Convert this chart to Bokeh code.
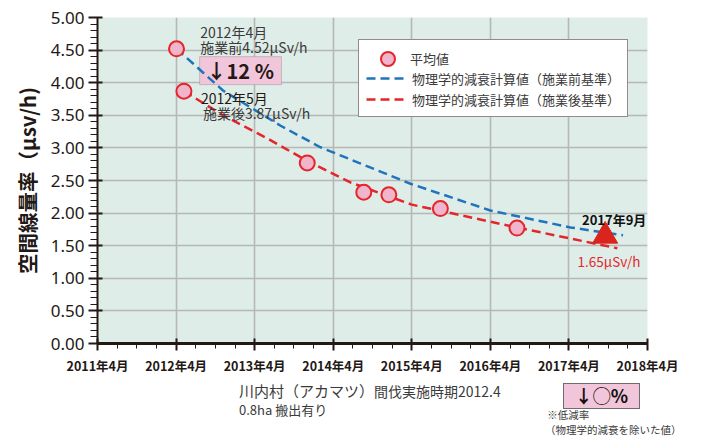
from bokeh.plotting import figure
from bokeh.layouts import column
from bokeh.models import (Range1d, FixedTicker, PrintfTickFormatter, Label,
                          BoxAnnotation, Legend, LegendItem, Div)
from bokeh.embed import file_html
from bokeh.resources import INLINE

# ---------------- data ----------------
avg_dates = ["2012-04-03", "2012-05-07", "2013-12-02", "2014-08-21",
             "2014-12-16", "2015-08-12", "2016-08-03"]
avg_values = [4.52, 3.87, 2.77, 2.32, 2.28, 2.07, 1.77]

pre_dates = ["2012-04-03", "2012-06-20", "2012-11-06", "2013-07-30", "2014-02-02",
             "2014-08-07", "2015-03-25", "2016-04-01", "2017-04-08", "2017-12-09"]
pre_values = [4.52, 4.29, 3.88, 3.34, 3.01, 2.76, 2.45, 2.04, 1.78, 1.66]

post_dates = ["2012-05-07", "2012-11-06", "2013-06-13", "2013-12-02", "2014-06-20",
              "2015-04-01", "2016-08-03", "2017-04-08", "2017-11-13"]
post_values = [3.87, 3.50, 3.12, 2.80, 2.47, 2.13, 1.78, 1.61, 1.46]

sep_dates = ["2017-09-17"]
sep_values = [1.65]

tick_dates = ["2011-04-01", "2012-04-01", "2013-04-01", "2014-04-01",
              "2015-04-01", "2016-04-01", "2017-04-01", "2018-04-01"]
tick_labels = ["2011年4月", "2012年4月", "2013年4月", "2014年4月",
               "2015年4月", "2016年4月", "2017年4月", "2018年4月"]
y_ticks = [0.0, 0.5, 1.0, 1.5, 2.0, 2.5, 3.0, 3.5, 4.0, 4.5, 5.0]


def months(d):
    y, m, dd = (int(v) for v in d.split("-"))
    return (y - 2011) * 12 + (m - 4) + (dd - 1) / 30.0


avg_x = [months(d) for d in avg_dates]
pre_x = [months(d) for d in pre_dates]
post_x = [months(d) for d in post_dates]
sep_x = [months(d) for d in sep_dates]
x_ticks = [months(d) for d in tick_dates]
x_minor = [t + k for t in x_ticks[:-1] for k in (3, 6, 9)]
y_minor = [round(t + k / 10, 2) for t in y_ticks[:-1] for k in (1, 2, 3, 4)]

JP = "Noto Sans CJK JP"
DARK = "#231815"
TXT = "#3a3a3a"
RED = "#e3262b"
BLUE = "#1f74bd"
PINK_BOX = "#f2c6da"

p = figure(width=702, height=380, output_backend="svg", toolbar_location=None,
           x_range=Range1d(x_ticks[0], x_ticks[-1]), y_range=Range1d(0, 5),
           min_border_left=97, min_border_right=55, min_border_top=17,
           min_border_bottom=37, background_fill_color="#dfede8",
           border_fill_color="white", outline_line_color=None)

# grid
p.xgrid.ticker = FixedTicker(ticks=x_ticks)
p.ygrid.ticker = FixedTicker(ticks=y_ticks)
for g in (p.xgrid, p.ygrid):
    g.grid_line_color = "#b5b8b5"
    g.grid_line_width = 1.6

# x axis
xa = p.xaxis[0]
xa.ticker = FixedTicker(ticks=x_ticks, minor_ticks=x_minor)
xa.major_label_overrides = {t: lab for t, lab in zip(x_ticks, tick_labels)}
xa.major_label_text_font = JP
xa.major_label_text_font_style = "bold"
xa.major_label_text_font_size = "12.5px"
xa.major_label_text_color = DARK
xa.major_label_standoff = 5
xa.axis_line_width = 3
xa.axis_line_color = DARK
xa.major_tick_line_color = DARK
xa.major_tick_line_width = 2
xa.major_tick_in = 5
xa.major_tick_out = 7
xa.minor_tick_line_color = DARK
xa.minor_tick_line_width = 1
xa.minor_tick_in = 0
xa.minor_tick_out = 5

# y axis
ya = p.yaxis[0]
ya.ticker = FixedTicker(ticks=y_ticks, minor_ticks=y_minor)
ya.formatter = PrintfTickFormatter(format="%.2f")
ya.major_label_text_font = "Noto Sans"
ya.major_label_text_font_size = "17px"
ya.major_label_text_color = DARK
ya.major_label_standoff = 4
ya.axis_line_width = 2
ya.axis_line_color = DARK
ya.major_tick_line_color = DARK
ya.major_tick_line_width = 2
ya.major_tick_in = 5
ya.major_tick_out = 9
ya.minor_tick_line_color = DARK
ya.minor_tick_line_width = 1
ya.minor_tick_in = 0
ya.minor_tick_out = 7
ya.axis_label = "空間線量率（μsv/h)"
ya.axis_label_text_font = JP
ya.axis_label_text_font_style = "bold"
ya.axis_label_text_font_size = "20.5px"
ya.axis_label_text_color = DARK
ya.axis_label_standoff = 6

# box behind "↓12 %"
p.add_layout(BoxAnnotation(left=15.6, right=28.1, top=4.40, bottom=3.97,
                           fill_color=PINK_BOX, fill_alpha=1,
                           line_color="#6d6d6d", line_width=1, level="underlay"))

# series
r_pre = p.line(pre_x, pre_values, line_color=BLUE, line_width=2.5, line_dash="9 5")
r_post = p.line(post_x, post_values, line_color=RED, line_width=2.5, line_dash="9 5")
r_avg = p.scatter(avg_x, avg_values, size=15, fill_color="#f0b4cb",
                  line_color=RED, line_width=2)
p.scatter(sep_x, sep_values, marker="triangle", size=25,
          fill_color="#d9251d", line_color="#d9251d")

# legends
legA = Legend(items=[LegendItem(label=" ", renderers=[r_avg]),
                     LegendItem(label="物理学的減衰計算値（施業前基準）", renderers=[r_pre]),
                     LegendItem(label="物理学的減衰計算値（施業後基準）", renderers=[r_post])],
              location=(261, 226), padding=7, spacing=1, margin=0,
              glyph_width=40, glyph_height=20, label_height=20, label_standoff=6,
              label_text_font=JP, label_text_font_size="13px", label_text_color=TXT,
              border_line_color=DARK, border_line_width=1,
              background_fill_color="white", background_fill_alpha=1)
p.add_layout(legA)
legB = Legend(items=[LegendItem(label="平均値", renderers=[r_avg])],
              location=(273, 267), padding=0, spacing=0, margin=0,
              glyph_width=35, glyph_height=35, label_height=35, label_standoff=5,
              label_text_font=JP, label_text_font_size="13px", label_text_color=TXT,
              border_line_alpha=0, background_fill_alpha=0)
p.add_layout(legB)


def lab(fig, x, y, text, size, color=TXT, bold=False, align="left"):
    fig.add_layout(Label(x=x, y=y, text=text,
                         text_font=JP, text_font_size=size, text_color=color,
                         text_font_style="bold" if bold else "normal",
                         text_align=align, text_baseline="middle"))


lab(p, 15.7, 4.77, "2012年4月", "14px")
lab(p, 15.7, 4.54, "施業前4.52μSv/h", "14px")
lab(p, 21.8, 4.19, "↓12 %", "20px", color=DARK, bold=True, align="center")
lab(p, 15.8, 3.77, "2012年5月", "14px", color=DARK)
lab(p, 16.1, 3.54, "施業後3.87μSv/h", "14px")
lab(p, 74.0, 1.90, "2017年9月", "13px", color="#111111", bold=True)
lab(p, 73.3, 1.26, "1.65μSv/h", "13.5px", color=RED)

# ---------- notes under the chart ----------
notes_html = (
    "<div style='position:relative;width:702px;height:57px;"
    f"font-family:\"{JP}\";color:{TXT};'>"
    "<div style='position:absolute;left:239px;top:2px;line-height:18px;white-space:nowrap;'>"
    "<span style='font-size:15px;'>川内村（アカマツ）</span>"
    "<span style='font-size:14px;'>間伐実施時期2012.4</span><br>"
    "<span style='font-size:13px;'>0.8ha 搬出有り</span></div>"
    "<div style='position:absolute;left:563px;top:3px;width:77px;height:26px;"
    f"box-sizing:border-box;background:{PINK_BOX};border:1px solid #6d6d6d;"
    "font-size:18px;font-weight:bold;line-height:22px;text-align:center;"
    "color:#111111;'>↓◯%</div>"
    "<div style='position:absolute;left:545px;top:28.25px;font-size:10.5px;"
    "line-height:14.5px;white-space:nowrap;'>&nbsp;※低減率<br>（物理学的減衰を除いた値）</div>"
    "</div>"
)
notes = Div(text=notes_html, width=702, height=57, margin=0)

layout = column(p, notes, spacing=0)
open("out.html", "w").write(file_html(layout, INLINE))
